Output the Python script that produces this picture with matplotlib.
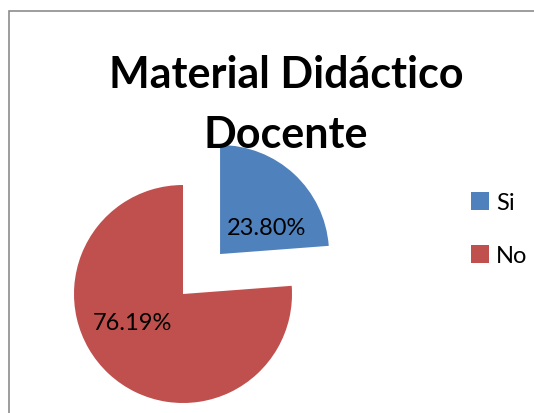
import matplotlib
matplotlib.use('Agg')
import matplotlib.pyplot as plt
from matplotlib.patches import Rectangle

categorias = ['Si', 'No']
valores = [23.80, 76.19]
etiquetas = ['23.80%', '76.19%']
colores = ['#4F81BD', '#C0504D']
titulo = 'Material Didáctico\nDocente'

fig = plt.figure(figsize=(5.34, 4.14), dpi=100)
W, H = 534, 414

# marco gris del grafico (solo se ven borde superior e izquierdo)
fig.patches.append(Rectangle((9 / W, -0.1), 1.2, (H - 12) / H + 0.1,
                             transform=fig.transFigure, fill=False,
                             edgecolor='#8c8c8c', linewidth=1.2))

# ejes del pastel: centro en (183, 295) px, radio 109 px
r = 109
cx, cy = 183, H - 295
lado = 3 * r
ax = fig.add_axes([(cx - lado / 2) / W, (cy - lado / 2) / H, lado / W, lado / H])
ax.axis('off')

it = iter(etiquetas)
wedges, textos, autotextos = ax.pie(valores, colors=colores, explode=[0.5, 0],
                                    startangle=90, counterclock=False,
                                    autopct=lambda p: next(it), pctdistance=0.5,
                                    wedgeprops={'linewidth': 0},
                                    textprops={'fontsize': 17, 'family': 'Lato'})
ax.set_xlim(-1.5, 1.5)
ax.set_ylim(-1.5, 1.5)
ax.set_aspect('equal')

desplaz = [(0.43, 0.24), (-0.46, -0.26)]
for w, t, d in zip(wedges, autotextos, desplaz):
    t.set_position((w.center[0] + d[0], w.center[1] + d[1]))

fig.text(286 / W, 1 - 55 / H, titulo, ha='center', va='top', fontsize=31,
         fontweight='bold', family='Lato', linespacing=1.62)

fig.legend(wedges, categorias, loc='upper left', bbox_to_anchor=(450 / W, 1 - 172 / H),
           frameon=False, prop={'family': 'Lato', 'size': 17},
           handlelength=0.75, handleheight=0.75, handletextpad=0.3,
           labelspacing=1.35)

fig.savefig('out.png', dpi=100)
